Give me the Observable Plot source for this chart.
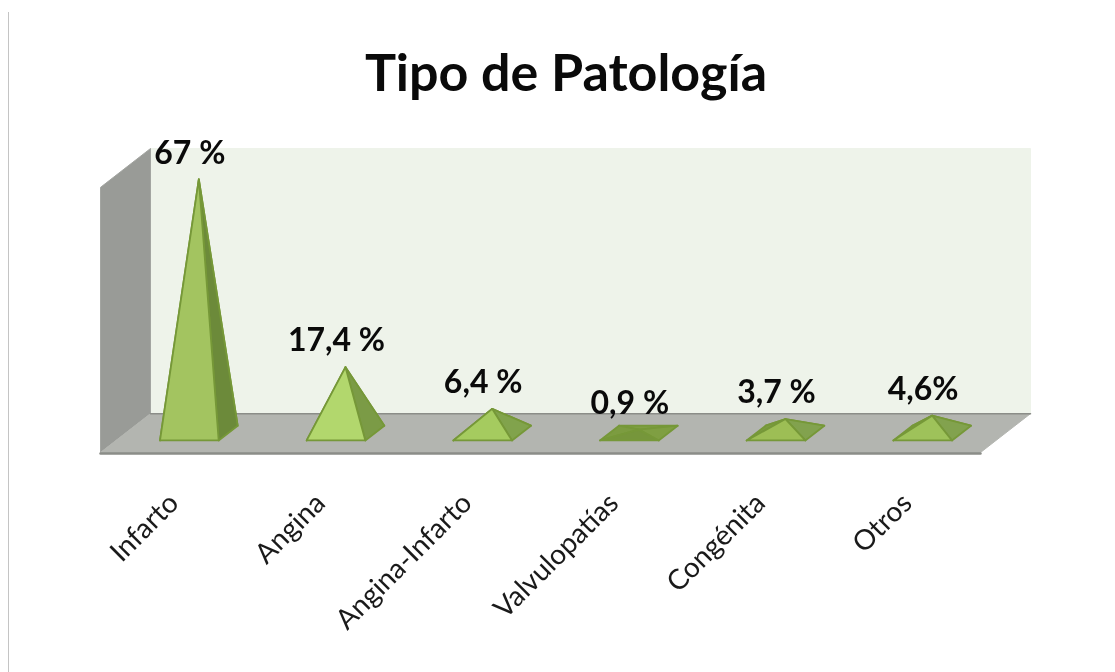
<!DOCTYPE html>
<html><head><meta charset="utf-8">
<script src="https://cdn.jsdelivr.net/npm/d3@7"></script>
<script src="https://cdn.jsdelivr.net/npm/@observablehq/plot@0.6"></script>
<style>
html,body{margin:0;padding:0;background:#fff;width:1115px;height:672px;overflow:hidden;font-family:Lato,"Open Sans",sans-serif}
#edge{position:absolute;left:8px;top:12px;bottom:0;width:1px;background:#c4c4c4}
#title{height:130px;box-sizing:border-box;padding:38px 0 0 17px;text-align:center;font-size:52px;line-height:66px;font-weight:700;color:#0a0a0a;white-space:nowrap;filter:blur(.4px)}
#chart{filter:blur(.4px)}
svg{display:block;overflow:visible}
</style></head><body>
<div id="edge"></div>
<div id="title">Tipo de Patología</div>
<div id="chart"></div>
<script>
const categories = ["Infarto","Angina","Angina-Infarto","Valvulopatías","Congénita","Otros"];
const values = [67,17.4,6.4,0.9,3.7,4.6];
const valueLabels = ["67 %","17,4 %","6,4 %","0,9 %","3,7 %","4,6%"];
const axisMax = 70;
const frontFills = ["#a3c460","#b2d76d","#a5cb5f","#76963b","#9dbe55","#9ec25a"];
const sideFills = ["#6c8a3a","#7b9b46","#81a34c","#7f9f42","#82a24e","#82a24e"];

// Oblique projection of the 3D chart box: depth 0 = front, depth 1 = back wall
const depthX = 0.341, depthY = 10.26;
const barLo = 0.3, barHi = 0.7, depthLo = 0.31, depthHi = 0.69;
const n = categories.length;
const P = (u, d, v) => ({x: u + d * depthX, y: v + d * depthY});

const poly = (id, fill, stroke, pts) =>
  [...pts, pts[0]].map(p => ({...P(...p), id, fill, stroke}));

const box = [
  poly("back", "#eef3ea", "#eef3ea", [[0,1,0],[n,1,0],[n,1,axisMax],[0,1,axisMax]]),
  poly("left", "#999b97", "#a3a5a1", [[0,0,0],[0,1,0],[0,1,axisMax],[0,0,axisMax]]),
  poly("floor", "#b3b5b0", "#b3b5b0", [[0,0,0],[n,0,0],[n,1,0],[0,1,0]])
].flat();

const floorEdges = [
  [0,0,0,"front"],[n,0,0,"front"],
  [0,1,0,"rear"],[n,1,0,"rear"]
].map(([u,d,v,id]) => ({...P(u,d,v), id}));

const faces = values.flatMap((v,i) => {
  const l = i + barLo, r = i + barHi, m = i + 0.5, dm = 0.5;
  const FL=[l,depthLo,0], FR=[r,depthLo,0], BR=[r,depthHi,0], BL=[l,depthHi,0], A=[m,dm,v];
  const s = "#769838";
  return [
    poly(`b${i}`, sideFills[i], s, [BL,BR,A]),
    poly(`l${i}`, "#7c9c40", s, [BL,FL,A]),
    poly(`r${i}`, sideFills[i], s, [FR,BR,A]),
    poly(`f${i}`, frontFills[i], s, [FL,FR,A])
  ].flat();
});

const labelRows = values.map((v,i) => ({...P(i+0.5,0.5,v), text: valueLabels[i]}));

const chart = Plot.plot({
  width: 1115, height: 542,
  marginLeft: 100, marginRight: 85, marginTop: 18, marginBottom: 220,
  x: {type:"linear", domain:[0, n + depthX], axis:null},
  y: {type:"linear", domain:[0, axisMax + depthY], axis:null},
  color: {type:"identity"},
  marks: [
    Plot.line(box, {x:"x", y:"y", z:"id", fill:"fill", stroke:"stroke", strokeWidth:1, curve:"linear"}),
    Plot.line(floorEdges.filter(d=>d.id==="rear"), {x:"x", y:"y", stroke:"#8b8d88", strokeWidth:1.5}),
    Plot.line(floorEdges.filter(d=>d.id==="front"), {x:"x", y:"y", stroke:"#8b8d88", strokeWidth:2.5, dy:1}),
    Plot.line(faces, {x:"x", y:"y", z:"id", fill:"fill", stroke:"stroke", strokeWidth:1.8, strokeLinejoin:"round", curve:"linear"}),
    Plot.text(labelRows, {x:"x", y:"y", text:"text", dx:-9, dy:-26, fontSize:32, fontWeight:700, fill:"#0a0a0a", fontFamily:"Lato"}),
    Plot.axisX({
      ticks: categories.map((_,i)=>i+0.5),
      tickFormat: v => categories[Math.round(v-0.5)],
      tickRotate:-45, tickSize:0, tickPadding:46,
      fontSize:28, fontFamily:"Lato", fill:"#1a1a1a", label:null
    })
  ]
});
document.getElementById("chart").append(chart);
</script>
</body></html>
